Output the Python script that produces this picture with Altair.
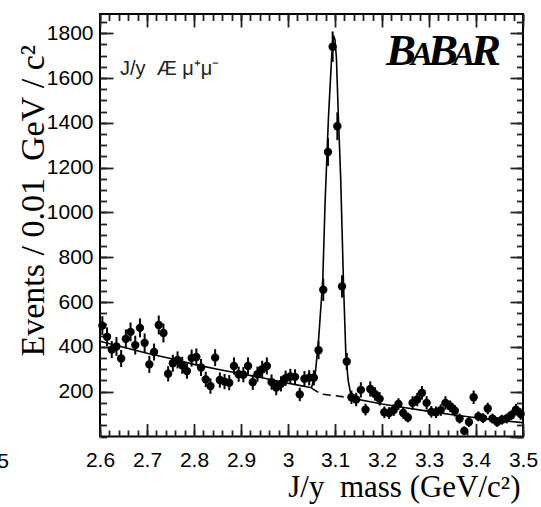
import altair as alt
import pandas as pd

# ---- data ----
counts = [495, 445, 388, 402, 348, 436, 467, 408, 485, 418,
          322, 377, 498, 462, 280, 327, 342, 318, 292, 350,
          355, 308, 255, 225, 352, 252, 245, 240, 315, 278,
          276, 315, 242, 278, 300, 315, 243, 218, 235, 260,
          268, 266, 188, 258, 262, 262, 385, 655, 1270, 1740,
          1385, 670, 335, 175, 165, 208, 120, 212, 190, 168,
          108, 105, 118, 145, 105, 85, 150, 165, 195, 150,
          110, 108, 118, 150, 135, 115, 80, 25, 65, 175,
          90, 82, 125, 80, 65, 75, 80, 95, 120, 100]
errors = [42, 42, 38, 42, 38, 42, 42, 42, 42, 42,
          38, 38, 42, 42, 34, 38, 38, 38, 34, 38,
          38, 38, 34, 34, 38, 34, 34, 34, 38, 34,
          34, 38, 34, 34, 38, 38, 34, 34, 34, 34,
          34, 34, 30, 34, 34, 34, 40, 50, 62, 68,
          62, 50, 38, 30, 30, 34, 26, 34, 30, 30,
          26, 26, 26, 26, 26, 22, 30, 30, 30, 30,
          26, 26, 26, 30, 26, 26, 22, 20, 22, 30,
          22, 22, 26, 22, 22, 22, 22, 22, 26, 26]
mass = [round(2.605 + 0.01 * i, 3) for i in range(len(counts))]

fit_mass = [2.60, 2.65, 2.70, 2.75, 2.80, 2.85, 2.90, 2.95, 3.00, 3.03,
            3.05, 3.058, 3.065, 3.074, 3.079, 3.086, 3.093, 3.097, 3.100, 3.103,
            3.107, 3.112, 3.118, 3.123, 3.128, 3.133, 3.14, 3.15, 3.20, 3.25,
            3.30, 3.35, 3.40, 3.45, 3.50]
fit_val = [425, 398, 372, 348, 322, 300, 280, 260, 238, 226,
           218, 280, 430, 700, 1050, 1420, 1700, 1790, 1770, 1690,
           1440, 1160, 690, 370, 250, 195, 176, 165, 145, 128,
           112, 97, 84, 72, 62]

bg_mass = [3.05, 3.07, 3.10, 3.135]
bg_val = [216, 190, 182, 172]

x_major = [2.6, 2.7, 2.8, 2.9, 3.0, 3.1, 3.2, 3.3, 3.4, 3.5]
x_minor = [round(2.6 + 0.02 * i, 2) for i in range(46)]
y_labels = [200, 400, 600, 800, 1000, 1200, 1400, 1600, 1800]
y_major = [0] + y_labels
y_minor = [50 * i for i in range(38)]

# ---- layout ----
W, H = 423, 422.5
X0, X1 = 2.6, 3.5
Y0, Y1 = 0, 1886
xs = alt.Scale(domain=[X0, X1], nice=False, zero=False)
ys = alt.Scale(domain=[Y0, Y1], nice=False, zero=False)
MAJ, MIN = 13, 6.5
TICK_COLOR = "#222222"
NB = "\u00a0"

x_axis = alt.Axis(orient="bottom", values=x_major,
                  labelExpr="datum.value == 3 ? '3' : format(datum.value, '.1f')",
                  ticks=True, tickSize=MAJ, tickWidth=1.8, tickColor=TICK_COLOR, offset=-MAJ,
                  domain=False, grid=False, labelFlush=False, labelOverlap=False,
                  labelFont="Liberation Sans", labelFontSize=21, labelColor="black", labelPadding=13,
                  title="J/y" + NB + NB + "mass" + NB + "(GeV/c²)", titleFont="Liberation Serif",
                  titleFontSize=31, titleFontWeight="normal", titleColor="black", titleAlign="right",
                  titleBaseline="alphabetic", titleX=420, titleY=59.5 + MAJ)
y_axis = alt.Axis(orient="left", values=y_labels, format="d",
                  ticks=True, tickSize=MAJ, tickWidth=1.8, tickColor=TICK_COLOR, offset=-MAJ,
                  domain=False, grid=False, labelOverlap=False,
                  labelFont="Liberation Sans", labelFontSize=21, labelColor="black", labelPadding=7,
                  title="Events" + NB + "/" + NB + "0.01" + NB + NB + "GeV" + NB + "/" + NB + "c²",
                  titleFont="Liberation Serif",
                  titleFontSize=34, titleFontWeight="normal", titleColor="black", titleAngle=270,
                  titleAlign="left", titleBaseline="alphabetic", titleX=-57 - MAJ, titleY=342)

df = pd.DataFrame({"mass": mass, "count": counts, "err": errors})
df["lo"] = df["count"] - df["err"]
df["hi"] = df["count"] + df["err"]
df["xl"] = df["mass"] - 0.005
df["xr"] = df["mass"] + 0.005

base = alt.Chart(df)
err_v = base.mark_rule(color="black", strokeWidth=2).encode(
    x=alt.X("mass:Q", scale=xs, axis=x_axis), y=alt.Y("lo:Q", scale=ys, axis=y_axis), y2="hi:Q")
err_h = base.mark_rule(color="black", strokeWidth=2).encode(
    x=alt.X("xl:Q", scale=xs, axis=x_axis), x2="xr:Q", y=alt.Y("count:Q", scale=ys, axis=y_axis))
pts = base.mark_circle(color="black", size=70, opacity=1).encode(
    x=alt.X("mass:Q", scale=xs, axis=x_axis), y=alt.Y("count:Q", scale=ys, axis=y_axis))

fit = alt.Chart(pd.DataFrame({"m": fit_mass, "v": fit_val})).mark_line(
    color="black", strokeWidth=1.6).encode(
    x=alt.X("m:Q", scale=xs, axis=x_axis), y=alt.Y("v:Q", scale=ys, axis=y_axis))
bg = alt.Chart(pd.DataFrame({"m": bg_mass, "v": bg_val})).mark_line(
    color="black", strokeWidth=1.6, strokeDash=[8, 5]).encode(
    x=alt.X("m:Q", scale=xs, axis=x_axis), y=alt.Y("v:Q", scale=ys, axis=y_axis))


def label(text, x, y, **kw):
    return alt.Chart(pd.DataFrame({"t": [text]})).mark_text(**kw).encode(
        x=alt.value(x), y=alt.value(y), text="t:N")


serif_bi = dict(font="Liberation Serif", fontStyle="italic", fontWeight="bold",
                align="left", baseline="alphabetic", color="black")
texts = [
    label("J/y" + NB + NB + "Æ" + NB + "μ⁺μ⁻", 20, 61, font="Liberation Sans", fontSize=20,
          align="left", baseline="alphabetic", color="#222222"),
    label("B", 286, 51, fontSize=45, **serif_bi),
    label("A", 311, 51, fontSize=33, **serif_bi),
    label("B", 328, 51, fontSize=45, **serif_bi),
    label("A", 353, 51, fontSize=33, **serif_bi),
    label("R", 371, 51, fontSize=45, **serif_bi),
    label("2.5", -91, 14.5, font="Liberation Sans", fontSize=21, align="right",
          baseline="top", color="black", dy=H),
]

main = alt.layer(err_v, err_h, pts, fit, bg, *texts)

# tick-only axes: top/right major, bottom/left minor, top/right minor
corner = pd.DataFrame({"m": [X0, X1], "v": [Y0, Y1]})


def tick_axes(xorient, yorient, xvals, yvals, length):
    ax = alt.Axis(orient=xorient, values=xvals, labels=False, domain=False, grid=False, ticks=True,
                  tickSize=length, tickWidth=1.8, tickColor=TICK_COLOR, offset=-length, title="")
    ay = alt.Axis(orient=yorient, values=yvals, labels=False, domain=False, grid=False, ticks=True,
                  tickSize=length, tickWidth=1.8, tickColor=TICK_COLOR, offset=-length, title="")
    return alt.Chart(corner).mark_point(opacity=0).encode(
        x=alt.X("m:Q", scale=xs, axis=ax), y=alt.Y("v:Q", scale=ys, axis=ay))


frame_top_right = tick_axes("top", "right", x_major, y_major, MAJ)
minor_bottom_left = tick_axes("bottom", "left", x_minor, y_minor, MIN)
minor_top_right = tick_axes("top", "right", x_minor, y_minor, MIN)

chart = alt.layer(main, frame_top_right, minor_bottom_left, minor_top_right).resolve_axis(
    x="independent", y="independent"
).properties(
    width=W, height=H,
    autosize=alt.AutoSizeParams(type="none"),
    padding={"left": 100, "top": 14, "right": 18, "bottom": 70.5},
    background="white",
).configure_view(stroke="black", strokeWidth=2)

chart.save("out.html", embed_options={"renderer": "svg", "actions": False})
